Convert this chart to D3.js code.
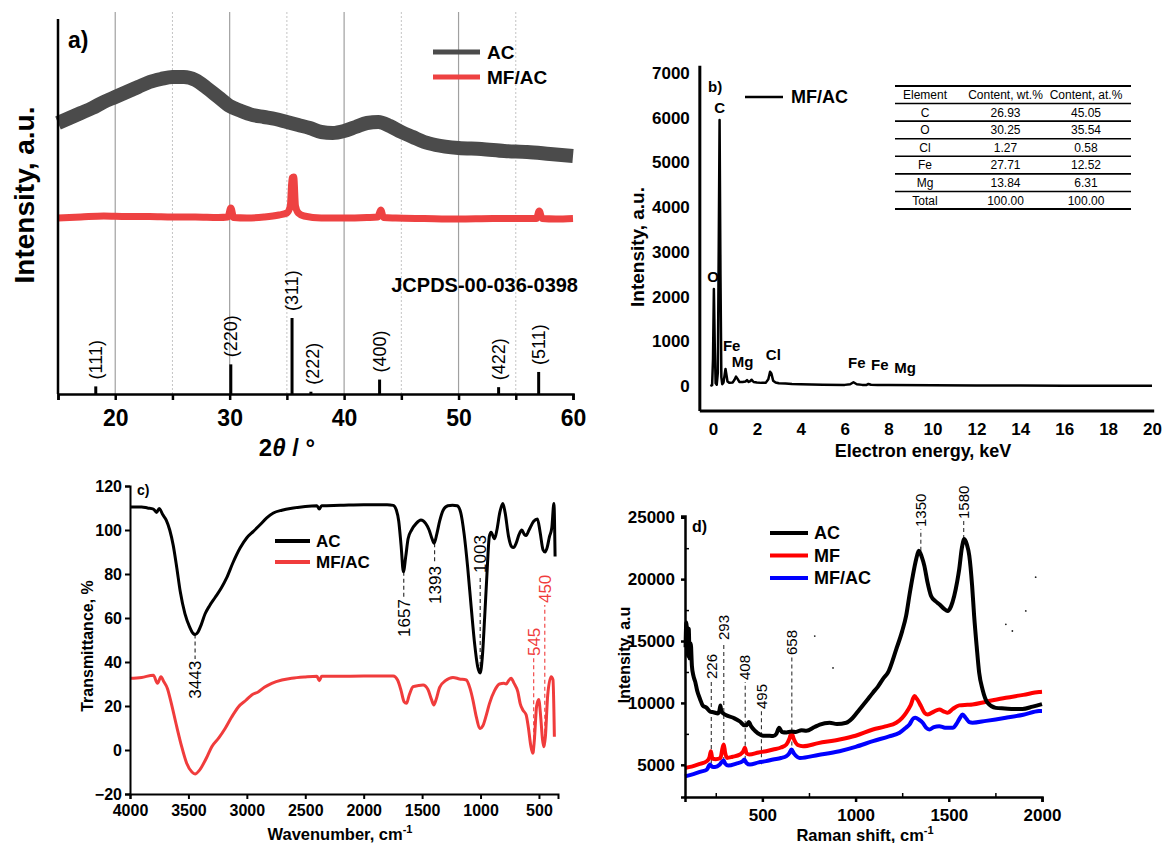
<!DOCTYPE html>
<html>
<head>
<meta charset="utf-8">
<script src="https://cdnjs.cloudflare.com/ajax/libs/d3/7.8.5/d3.min.js"></script>
<style>
body{margin:0;background:#fff;}
svg text{font-family:"Liberation Sans",Arial,sans-serif;}
</style>
</head>
<body>
<div id="chart"></div>
<script>
// ---------- panel a: XRD ----------
const xrdAcTheta = [15,16,17,18,19,20,21,22,23,24,25,26,27,28,29,30,31,32,33,34,35,36,37,38,39,40,41,42,43,44,45,46,47,48,50,52,54,56,58,60]
const xrdAcValues = [2710,2760,2810,2860,2920,2970,3020,3070,3120,3150,3170,3170,3140,3060,2970,2880,2830,2790,2770,2750,2720,2690,2660,2620,2610,2630,2670,2710,2720,2680,2620,2570,2520,2490,2460,2450,2430,2420,2400,2380]
const xrdMfTheta = [15,17,19,21,23,25,27,29,29.85,30.1,30.35,31.5,33,34.3,35.0,35.3,35.45,35.6,35.75,36.0,36.5,38,40,42,42.95,43.2,43.45,44.5,47,50,53,56.8,57.05,57.3,58.5,60]
const xrdMfValues = [1760,1770,1780,1775,1775,1770,1770,1765,1770,1860,1765,1760,1770,1790,1810,1880,2160,2170,1880,1810,1780,1760,1760,1765,1770,1840,1765,1760,1755,1750,1755,1755,1830,1755,1750,1755]
const xrdRefTheta = [18.3,30.1,35.45,37.1,43.1,53.5,57.0]
const xrdRefInt = [10,39,100,3,19,9,29]
const xrdRefHkl = ["(111)","(220)","(311)","(222)","(400)","(422)","(511)"]
const xrdTicks = [15,20,25,30,35,40,45,50,55,60]
const xrdGridMajor = [20,30,40,50]
const xrdGridMinor = [25,35,45,55]

// ---------- panel b: EDS ----------
const edsEnergy = [-0.12,-0.04,0.0,0.04,0.08,0.12,0.17,0.22,0.26,0.30,0.34,0.38,0.42,0.48,0.53,0.57,0.61,0.66,0.75,0.9,0.98,1.05,1.12,1.2,1.35,1.48,1.55,1.62,1.7,1.76,1.85,2.0,2.2,2.4,2.52,2.6,2.66,2.74,2.85,3.0,3.3,3.6,4.0,5.0,6.0,6.25,6.4,6.55,6.8,7.0,7.08,7.2,7.5,8.0,10,12,14,16,18,20]
const edsCounts = [0,20,600,2170,900,60,30,300,3000,5950,2500,200,40,80,250,380,260,100,70,80,140,210,160,90,90,100,130,90,110,140,90,80,70,70,150,320,280,120,80,60,55,45,40,30,25,40,85,40,25,25,45,28,25,20,15,12,10,8,6,5]
const edsPeakLabels = ["C","O","Fe","Mg","Cl","Fe","Fe","Mg"]
const edsPeakLabelE = [0.3,0.0,0.85,1.35,2.75,6.55,7.6,8.75]
const edsPeakLabelC = [6110,2330,780,420,580,410,350,300]
const edsYTicks = [0,1000,2000,3000,4000,5000,6000,7000]
const edsXTicks = [0,2,4,6,8,10,12,14,16,18,20]
const tableHeader = ["Element","Content, wt.%","Content, at.%"]
const tableElements = ["C","O","Cl","Fe","Mg","Total"]
const tableWt = ["26.93","30.25","1.27","27.71","13.84","100.00"]
const tableAt = ["45.05","35.54","0.58","12.52","6.31","100.00"]

// ---------- panel c: FTIR ----------
const ftirAcWn = [4000,3900,3850,3800,3772,3750,3720,3690,3660,3630,3600,3570,3530,3490,3460,3443,3420,3390,3358,3320,3272,3220,3173,3120,3058,3000,2944,2887,2830,2773,2700,2602,2500,2400,2380,2360,2200,2000,1800,1747,1720,1700,1680,1660,1640,1620,1590,1550,1510,1470,1440,1415,1397,1375,1350,1320,1280,1240,1200,1170,1140,1110,1080,1050,1025,1003,985,965,945,925,910,880,860,835,809,790,760,735,718,695,670,647,625,610,585,545,513,490,465,447,430,410,390,372,362]
const ftirAc = [110.5,110.5,110,109.5,108,109.8,107,104.5,100,93,83,72,62,56,53,52.5,53.5,57,61.8,65.5,69.3,73.5,78.2,85,91.8,96.5,99.4,102.4,105.5,107.7,109,110,110.7,111,109.5,111,111.2,111.5,111.5,111.2,109,104,93,81,88,96,100,103,104.5,103,100,96,94,98,104,109,111,111.3,111,108,98,83,65,48,38,35,42,60,80,97,99,96,100,108,112,108,97,92.5,92,94,98,100,98,97.5,100,104,105,99,91,90,92,97,101,112,88]
const ftirMfWn = [4000,3900,3800,3765,3735,3710,3680,3650,3600,3560,3515,3470,3443,3410,3386,3340,3300,3240,3186,3130,3071,3010,2958,2900,2850,2787,2700,2617,2500,2400,2380,2360,2200,2000,1800,1747,1710,1680,1655,1634,1610,1577,1530,1492,1450,1420,1400,1380,1350,1300,1236,1180,1122,1090,1065,1040,1003,980,950,923,880,838,800,781,760,738,715,681,660,638,610,590,570,553,540,520,502,485,470,459,445,425,396,380,368]
const ftirMf = [32.6,33,34,30.3,33.3,31,28,22,10.6,2,-6,-10,-10.9,-9.5,-7.6,-3,1.5,5.5,9.8,15,19.7,22.5,25,26.5,28.5,30.3,31.8,32.6,33.2,33.5,31.5,33.5,33.5,33.6,33.6,33.6,31.8,27,22,21.2,25,28.8,29.3,29.5,27.5,23,20.5,23,28.5,31.5,33,32.3,31.8,28,22.7,16,9.8,11,16,21.2,27,30,30.3,30,31.5,32.6,30.5,26.5,21,18.2,16,10,2,-1.5,4,20,23,15,5,1.5,6,25,33.3,32,6]
// annotated bands: wavenumber, value at the curve, value where the label sits
const ftirMarkWn = [3443,1657,1393,1003,545,450]
const ftirMarkTip = [52.5,81,94,35,-1.5,1.5]
const ftirMarkLabel = [40.5,68.6,83.6,80.5,42.7,66.8]
const ftirMarkSeries = ["AC","AC","AC","AC","MF/AC","MF/AC"]
const ftirXTicks = [4000,3500,3000,2500,2000,1500,1000,500]
const ftirYTicks = [-20,0,20,40,60,80,100,120]

// ---------- panel d: Raman ----------
const ramanAcShift = [88,92,97,101,105,110,116,122,130,140,150,166,180,201,220,237,262,270,275,280,300,344,380,403,415,427,440,460,487,505,540,558,575,590,605,629,656,680,710,736,780,808,861,900,950,985,1021,1060,1093,1119,1150,1173,1218,1250,1271,1290,1307,1325,1339,1355,1369,1385,1405,1430,1449,1475,1494,1512,1529,1545,1556,1570,1583,1597,1610,1625,1636,1650,1663,1681,1708,1752,1800,1850,1895,1950,2000]
const ramanAc = [14500,16500,15200,13800,16000,13600,14800,13000,12200,11700,11000,10300,9800,9600,9300,9250,9150,9400,9800,9300,9050,8800,8500,8200,8200,8450,8100,7750,7450,7350,7350,7320,7500,8000,7650,7610,7700,7650,7800,7750,8050,8250,8400,8300,8400,8800,9470,10200,10830,11300,12000,12430,14330,15800,17030,18800,20270,21600,22290,21800,21070,19800,18640,18200,17970,17600,17430,17800,18640,19800,20810,22500,23240,22800,21890,19500,17030,14500,12430,11090,10010,9600,9550,9500,9510,9700,9900]
const ramanMfShift = [85,120,160,202,216,224,232,250,275,287,293,300,310,340,380,398,406,415,430,480,520,558,600,629,645,656,668,690,718,800,914,1000,1093,1160,1218,1250,1271,1295,1316,1330,1351,1370,1387,1420,1449,1475,1494,1520,1556,1600,1627,1700,1806,1900,1984,2000]
const ramanMf = [4750,4850,5050,5290,5600,6100,5500,5450,5550,6400,6640,6000,5560,5650,5830,6100,6370,5950,5830,6000,6100,6240,6400,6640,7100,7590,7100,6600,6500,6750,7040,7350,7850,8100,8400,8800,9200,9800,10550,10300,9740,9200,9070,9300,9470,9300,9200,9500,9800,9850,9880,10100,10420,10650,10880,10900]
const ramanMfAcShift = [85,130,170,202,219,230,246,270,285,293,300,317,360,395,403,415,433,480,520,558,600,629,645,656,670,701,800,914,1000,1093,1180,1236,1270,1289,1310,1321,1340,1360,1378,1396,1420,1449,1480,1521,1545,1560,1574,1590,1610,1627,1700,1806,1900,1984,2000]
const ramanMfAc = [4070,4250,4450,4610,5020,4850,4830,5000,5290,5350,5100,4940,5100,5300,5430,5150,5020,5200,5300,5430,5550,5700,5950,6240,5900,5560,5800,6100,6450,6910,7300,7590,8000,8260,8750,8800,8650,8400,8000,7850,8050,8120,8000,7990,8400,8800,9070,8800,8450,8400,8550,8800,9050,9340,9350]
const ramanMarkShift = [226,293,408,495,658,1350,1580]
const ramanMarkTip = [5150,5300,5400,5050,6000,22290,23240]
const ramanMarkLabel = [11930,15080,11850,9510,13870,24210,24860]
const ramanSpeckShift = [1966,1913,1806,1841,781,879]
const ramanSpeckValue = [20160,17430,16350,15810,15400,12830]
const ramanXTicks = [500,1000,1500,2000]
const ramanXMinor = [250,750,1250,1750]
const ramanYTicks = [5000,10000,15000,20000,25000]
const ramanYMinor = [7500,12500,17500,22500]

let svg = d3.select("#chart").append("svg")
.attr("width",1163)
.attr("height",843)

svg.append("rect").attr("width",1163).attr("height",843).attr("fill","white")

let plain = d3.format("d")

function pairs(xs,ys){
  return xs.map((d,i) => [d,ys[i]])
}

//rotated text reading bottom to top
function rotLabel(g,x,y,txt,anchor,size,weight,color){
  return g.append("text")
  .attr("transform","translate("+x+","+y+") rotate(-90)")
  .attr("text-anchor",anchor)
  .attr("dy","0.35em")
  .style("font-size",size+"px")
  .style("font-weight",weight)
  .attr("fill",color)
  .text(txt)
}

function styleAxis(ax,size,width){
  ax.selectAll("text").style("font-size",size+"px").style("font-weight","bold").attr("fill","black")
  ax.selectAll("path,line").attr("stroke","black").attr("stroke-width",width)
}

//Panel a
function drawXRD(){
  let x = d3.scaleLinear().domain([15,60]).range([58,573])
  let y = d3.scaleLinear().domain([0,3820]).range([394,12])
  let yRef = d3.scaleLinear().domain([0,100]).range([394,318])
  let g = svg.append("g").attr("id","panelA")

  g.selectAll(".gMaj").data(xrdGridMajor).enter().append("line")
  .attr("x1",d => x(d)).attr("x2",d => x(d))
  .attr("y1",y.range()[1]).attr("y2",y.range()[0])
  .attr("stroke","#a0a0a0").attr("stroke-width",1.2)

  g.selectAll(".gMin").data(xrdGridMinor).enter().append("line")
  .attr("x1",d => x(d)).attr("x2",d => x(d))
  .attr("y1",y.range()[1]).attr("y2",y.range()[0])
  .attr("stroke","#c4c4c4").attr("stroke-width",1)
  .attr("stroke-dasharray","2,2")

  let line = d3.line().x(d => x(d[0])).y(d => y(d[1])).curve(d3.curveMonotoneX)

  g.append("path").datum(pairs(xrdAcTheta,xrdAcValues))
  .attr("d",line).attr("fill","none")
  .attr("stroke","#4b4b4b").attr("stroke-width",14).attr("stroke-linejoin","round")

  g.append("path").datum(pairs(xrdMfTheta,xrdMfValues))
  .attr("d",line).attr("fill","none")
  .attr("stroke","#ee4242").attr("stroke-width",7).attr("stroke-linejoin","miter")

  //reference pattern
  g.selectAll(".stick").data(xrdRefTheta).enter().append("line")
  .attr("x1",d => x(d)).attr("x2",d => x(d))
  .attr("y1",yRef(0)).attr("y2",(d,i) => yRef(xrdRefInt[i]))
  .attr("stroke","black").attr("stroke-width",3)

  xrdRefTheta.forEach((d,i) => {
    rotLabel(g,x(d) + (i==3 ? 2 : 0),yRef(xrdRefInt[i]) - 7,xrdRefHkl[i],"start",18,"normal","black")
  })

  g.append("text").attr("x",578).attr("y",292)
  .attr("text-anchor","end")
  .style("font-size","20px").style("font-weight","bold")
  .text("JCPDS-00-036-0398")

  //axes
  let ax = g.append("g")
  .attr("transform","translate(0,"+y.range()[0]+")")
  .call(d3.axisBottom(x).tickValues(xrdTicks).tickSize(6).tickPadding(10)
  .tickFormat(d => d % 10 == 0 ? d : ""))
  styleAxis(ax,23,2.5)

  g.append("line").attr("x1",x(15)).attr("x2",x(15))
  .attr("y1",19).attr("y2",y.range()[0])
  .attr("stroke","black").attr("stroke-width",2.5)

  let t = g.append("text").attr("x",287).attr("y",456).attr("text-anchor","middle")
  .style("font-size","24px").style("font-weight","bold")
  t.append("tspan").text("2")
  t.append("tspan").style("font-style","italic").text("θ")
  t.append("tspan").text(" / °")

  rotLabel(g,24,195,"Intensity, a.u.","middle",28,"bold","black")

  g.append("text").attr("x",68).attr("y",48)
  .style("font-size","23px").style("font-weight","bold").text("a)")

  //legend
  let legNames = ["AC","MF/AC"]
  let legColors = ["#4b4b4b","#ee4242"]
  legNames.forEach((n,i) => {
    g.append("line").attr("x1",433).attr("x2",480)
    .attr("y1",52 + i*25).attr("y2",52 + i*25)
    .attr("stroke",legColors[i]).attr("stroke-width",5)
    g.append("text").attr("x",487).attr("y",52 + i*25).attr("dy","0.35em")
    .style("font-size","19px").style("font-weight","bold").text(n)
  })
}

//Panel b
function drawEDS(){
  let x = d3.scaleLinear().domain([0,20]).range([713,1152])
  let y = d3.scaleLinear().domain([0,7000]).range([386,73])
  let g = svg.append("g").attr("id","panelB")
  let x0 = x(-0.6), yBottom = y(-560)

  g.append("path").datum(pairs(edsEnergy,edsCounts))
  .attr("d",d3.line().x(d => x(d[0])).y(d => y(d[1])))
  .attr("fill","none").attr("stroke","black").attr("stroke-width",2.5)
  .attr("stroke-linejoin","round")

  let ay = g.append("g").attr("transform","translate("+x0+",0)")
  .call(d3.axisLeft(y).tickValues(edsYTicks).tickSize(0).tickPadding(10).tickFormat(plain))
  ay.select(".domain").remove()
  styleAxis(ay,17,2)

  let axx = g.append("g").attr("transform","translate(0,"+yBottom+")")
  .call(d3.axisBottom(x).tickValues(edsXTicks).tickSize(0).tickPadding(12).tickFormat(plain))
  axx.select(".domain").remove()
  styleAxis(axx,17,2)

  g.append("line").attr("x1",x0).attr("x2",x0).attr("y1",y(7160)).attr("y2",yBottom)
  .attr("stroke","black").attr("stroke-width",3)
  g.append("line").attr("x1",x0).attr("x2",x(20.1)).attr("y1",yBottom).attr("y2",yBottom)
  .attr("stroke","black").attr("stroke-width",3)

  g.append("text").attr("x",923).attr("y",457).attr("text-anchor","middle")
  .style("font-size","18px").style("font-weight","bold").text("Electron energy, keV")
  rotLabel(g,637,247,"Intensity, a.u.","middle",19,"bold","black")

  g.append("text").attr("x",708).attr("y",92)
  .style("font-size","15px").style("font-weight","bold").text("b)")

  //peak labels
  g.selectAll(".pk").data(edsPeakLabels).enter().append("text")
  .attr("x",(d,i) => x(edsPeakLabelE[i]))
  .attr("y",(d,i) => y(edsPeakLabelC[i]))
  .attr("text-anchor","middle")
  .style("font-size","15px").style("font-weight","bold")
  .text(d => d)

  //legend
  g.append("line").attr("x1",745).attr("x2",783).attr("y1",97).attr("y2",97)
  .attr("stroke","black").attr("stroke-width",2.5)
  g.append("text").attr("x",791).attr("y",97).attr("dy","0.35em")
  .style("font-size","18px").style("font-weight","bold").text("MF/AC")

  //composition table
  let rows = ["head"].concat(tableElements)
  let ry = d3.scaleBand().domain(rows).range([86,209])
  let cols = d3.scalePoint().domain(tableHeader).range([925,1086])
  let tx0 = 895, tx1 = 1131
  rows.forEach((r,i) => {
    g.append("line").attr("x1",tx0).attr("x2",tx1)
    .attr("y1",ry(r)).attr("y2",ry(r))
    .attr("stroke","black").attr("stroke-width",i == 0 ? 2 : 1.6)
  })
  g.append("line").attr("x1",tx0).attr("x2",tx1)
  .attr("y1",ry.range()[1]).attr("y2",ry.range()[1])
  .attr("stroke","black").attr("stroke-width",2)

  let cellText = [tableHeader].concat(tableElements.map((e,i) => [e,tableWt[i],tableAt[i]]))
  cellText.forEach((row,i) => {
    row.forEach((c,j) => {
      g.append("text").attr("x",cols(tableHeader[j]))
      .attr("y",ry(rows[i]) + ry.bandwidth()/2).attr("dy","0.36em")
      .attr("text-anchor","middle")
      .style("font-size","12px")
      .text(c)
    })
  })
}

//Panel c
function drawFTIR(){
  let x = d3.scaleLinear().domain([4000,337]).range([130,558])
  let y = d3.scaleLinear().domain([-20,120]).range([794,486])
  let g = svg.append("g").attr("id","panelC")
  let line = d3.line().x(d => x(d[0])).y(d => y(d[1])).curve(d3.curveMonotoneX)
  let colors = {"AC":"black","MF/AC":"#f03c3c"}

  //annotation dashes
  ftirMarkWn.forEach((w,i) => {
    let c = ftirMarkSeries[i] == "AC" ? "#222" : "#f03c3c"
    let below = ftirMarkLabel[i] < ftirMarkTip[i]
    g.append("line").attr("x1",x(w)).attr("x2",x(w))
    .attr("y1",y(ftirMarkTip[i])).attr("y2",y(ftirMarkLabel[i]) + (below ? -2 : 2))
    .attr("stroke",c).attr("stroke-width",1.1).attr("stroke-dasharray","4,3")
    rotLabel(g,x(w),y(ftirMarkLabel[i]),w,below ? "end" : "start",17,"normal",
      ftirMarkSeries[i] == "AC" ? "black" : "#f03c3c")
  })

  g.append("path").datum(pairs(ftirMfWn,ftirMf))
  .attr("d",line).attr("fill","none")
  .attr("stroke",colors["MF/AC"]).attr("stroke-width",3)
  g.append("path").datum(pairs(ftirAcWn,ftirAc))
  .attr("d",line).attr("fill","none")
  .attr("stroke",colors["AC"]).attr("stroke-width",3)

  let ay = g.append("g").attr("transform","translate("+x(4000)+",0)")
  .call(d3.axisLeft(y).tickValues(ftirYTicks).tickSize(5).tickPadding(3)
  .tickFormat(d => d < 0 ? "\u2212" + Math.abs(d) : d))
  styleAxis(ay,16,2)
  let axx = g.append("g").attr("transform","translate(0,"+y(-20)+")")
  .call(d3.axisBottom(x).tickValues(ftirXTicks).tickSize(5).tickPadding(6).tickFormat(plain))
  styleAxis(axx,16,2)

  let t = g.append("text").attr("x",340).attr("y",840).attr("text-anchor","middle")
  .style("font-size","16.5px").style("font-weight","bold")
  t.append("tspan").text("Wavenumber, cm")
  t.append("tspan").attr("dy",-7).style("font-size","11px").text("-1")

  rotLabel(g,87,646,"Transmittance, %","middle",16,"bold","black")

  g.append("text").attr("x",137).attr("y",495)
  .style("font-size","14px").style("font-weight","bold").text("c)")

  let legNames = ["AC","MF/AC"]
  legNames.forEach((n,i) => {
    g.append("line").attr("x1",275).attr("x2",310)
    .attr("y1",541 + i*21).attr("y2",541 + i*21)
    .attr("stroke",colors[n]).attr("stroke-width",4)
    g.append("text").attr("x",316).attr("y",541 + i*21).attr("dy","0.35em")
    .style("font-size","17px").style("font-weight","bold").text(n)
  })
}

//Panel d
function drawRaman(){
  let x = d3.scaleLinear().domain([85,2000]).range([685,1042])
  let y = d3.scaleLinear().domain([2400,25100]).range([797,516])
  let g = svg.append("g").attr("id","panelD")
  let line = d3.line().x(d => x(d[0])).y(d => y(d[1])).curve(d3.curveMonotoneX)

  ramanMarkShift.forEach((s,i) => {
    g.append("line").attr("x1",x(s)).attr("x2",x(s))
    .attr("y1",y(ramanMarkTip[i])).attr("y2",y(ramanMarkLabel[i]) + 2)
    .attr("stroke","#333").attr("stroke-width",1.1).attr("stroke-dasharray","4,3")
    rotLabel(g,x(s),y(ramanMarkLabel[i]),s,"start",15,"normal","black")
  })

  let series = [
    {name:"AC",color:"black",data:pairs(ramanAcShift,ramanAc)},
    {name:"MF",color:"#ff0000",data:pairs(ramanMfShift,ramanMf)},
    {name:"MF/AC",color:"#0000ff",data:pairs(ramanMfAcShift,ramanMfAc)}
  ]
  series.slice().reverse().forEach(s => {
    g.append("path").datum(s.data).attr("d",line)
    .attr("fill","none").attr("stroke",s.color).attr("stroke-width",4)
    .attr("stroke-linejoin","round")
  })

  g.selectAll(".speck").data(ramanSpeckShift).enter().append("circle")
  .attr("cx",d => x(d)).attr("cy",(d,i) => y(ramanSpeckValue[i]))
  .attr("r",0.9).attr("fill","#222")

  let ay = g.append("g").attr("transform","translate("+x(85)+",0)")
  .call(d3.axisLeft(y).tickValues(ramanYTicks).tickSize(4).tickPadding(6).tickFormat(plain))
  styleAxis(ay,17,2.5)
  let ayMin = g.append("g").attr("transform","translate("+x(85)+",0)")
  .call(d3.axisLeft(y).tickValues(ramanYMinor).tickSize(-4).tickFormat(""))
  ayMin.select(".domain").remove()
  ayMin.selectAll("line").attr("stroke","black").attr("stroke-width",1.5)

  let axx = g.append("g").attr("transform","translate(0,"+y(2400)+")")
  .call(d3.axisBottom(x).tickValues(ramanXTicks).tickSize(5).tickPadding(7).tickFormat(plain))
  styleAxis(axx,17,2.5)
  let axMin = g.append("g").attr("transform","translate(0,"+y(2400)+")")
  .call(d3.axisBottom(x).tickValues(ramanXMinor).tickSize(-4).tickFormat(""))
  axMin.select(".domain").remove()
  axMin.selectAll("line").attr("stroke","black").attr("stroke-width",1.5)

  let t = g.append("text").attr("x",865).attr("y",841).attr("text-anchor","middle")
  .style("font-size","16.5px").style("font-weight","bold")
  t.append("tspan").text("Raman shift, cm")
  t.append("tspan").attr("dy",-7).style("font-size","11px").text("-1")

  rotLabel(g,624,655,"Intensity, a.u","middle",16,"bold","black")

  g.append("text").attr("x",692).attr("y",532)
  .style("font-size","16px").style("font-weight","bold").text("d)")

  series.forEach((s,i) => {
    g.append("line").attr("x1",770).attr("x2",808)
    .attr("y1",533 + i*22.5).attr("y2",533 + i*22.5)
    .attr("stroke",s.color).attr("stroke-width",4)
    g.append("text").attr("x",814).attr("y",533 + i*22.5).attr("dy","0.35em")
    .style("font-size","18px").style("font-weight","bold").text(s.name)
  })
}

drawXRD()
drawEDS()
drawFTIR()
drawRaman()
</script>
</body>
</html>
